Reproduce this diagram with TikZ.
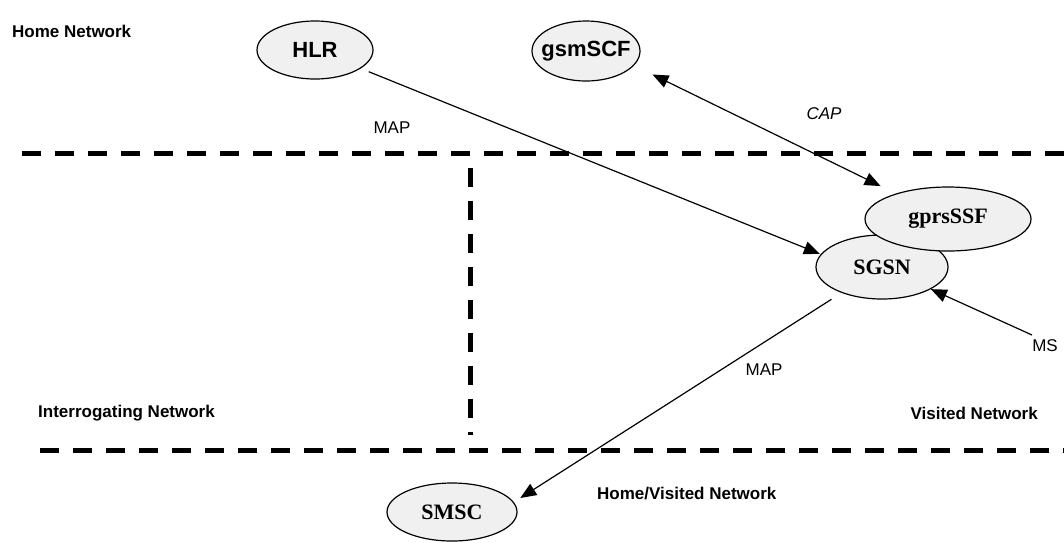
\documentclass[tikz,border=0pt]{standalone}
\usepackage{fontspec}
\setmainfont{Liberation Serif}
\newfontfamily\arial{Liberation Sans}
\usetikzlibrary{shapes.geometric,arrows.meta,calc}
\tikzset{
  ent/.style={ellipse,draw,line width=1.2pt,fill=gray!12,inner sep=-30pt},
  sansent/.style={ent,font=\arial\bfseries\fontsize{22}{24}\selectfont},
  serifent/.style={ent,font=\bfseries\fontsize{22}{24}\selectfont},
  region/.style={font=\arial\bfseries\fontsize{17}{19}\selectfont,inner sep=0pt},
  lbl/.style={font=\arial\fontsize{17}{19}\selectfont,inner sep=0pt},
  boundary/.style={line width=5pt,dash pattern=on 19pt off 14pt},
  conn/.style={line width=1.2pt,-{Triangle[length=16pt,width=13pt]}},
  bothconn/.style={line width=1.2pt,{Triangle[length=16pt,width=13pt]}-{Triangle[length=16pt,width=13pt]}},
}
\begin{document}
\begin{tikzpicture}[x=1pt,y=-1pt]
\useasboundingbox (0,0) rectangle (1064,542);
% boundaries
\draw[boundary] (22,153) -- (1064,153);
\draw[boundary] (40,450) -- (1064,450);
\draw[boundary] (470,168) -- (470,435);
% nodes
\node[sansent,minimum width=116pt,minimum height=58pt] (HLR) at (315,50) {HLR};
\node[sansent,minimum width=108pt,minimum height=60pt] (gsmSCF) at (586,51) {gsmSCF};
\node[serifent,minimum width=132pt,minimum height=64pt] (SGSN) at (882,267) {SGSN};
\node[serifent,minimum width=166pt,minimum height=64pt] (gprsSSF) at (948,219) {gprsSSF};
\node[serifent,minimum width=130pt,minimum height=58pt] (SMSC) at (452,512) {SMSC};
% region labels
\node[region,anchor=west] (home) at (12,31) {Home Network};
\node[region,anchor=west] (interr) at (38,413) {Interrogating Network};
\node[region,anchor=east] (visited) at (1038,413) {Visited Network};
\node[region,anchor=west] (homevis) at (597,493) {Home/Visited Network};
% connector labels
\node[lbl] (map1) at (392,128) {MAP};
\node[lbl] (map2) at (764,370) {MAP};
\node[lbl,font=\arial\itshape\fontsize{17}{19}\selectfont] (cap) at (824,114) {CAP};
\node[lbl] (MS) at (1045,346) {MS};
\coordinate (msend) at (1032,335);
% connectors
\draw[conn,shorten <=58pt,shorten >=67pt] (HLR.center) -- ($(SGSN.center)+(0,12)$);
\draw[bothconn,shorten <=74pt,shorten >=75pt] ($(gsmSCF.center)+(0,-9)$) -- (gprsSSF.center);
\draw[conn] (msend) -- (SGSN);
\draw[conn,shorten <=60pt,shorten >=81pt] (SGSN.center) -- (SMSC.south);
\end{tikzpicture}
\end{document}
